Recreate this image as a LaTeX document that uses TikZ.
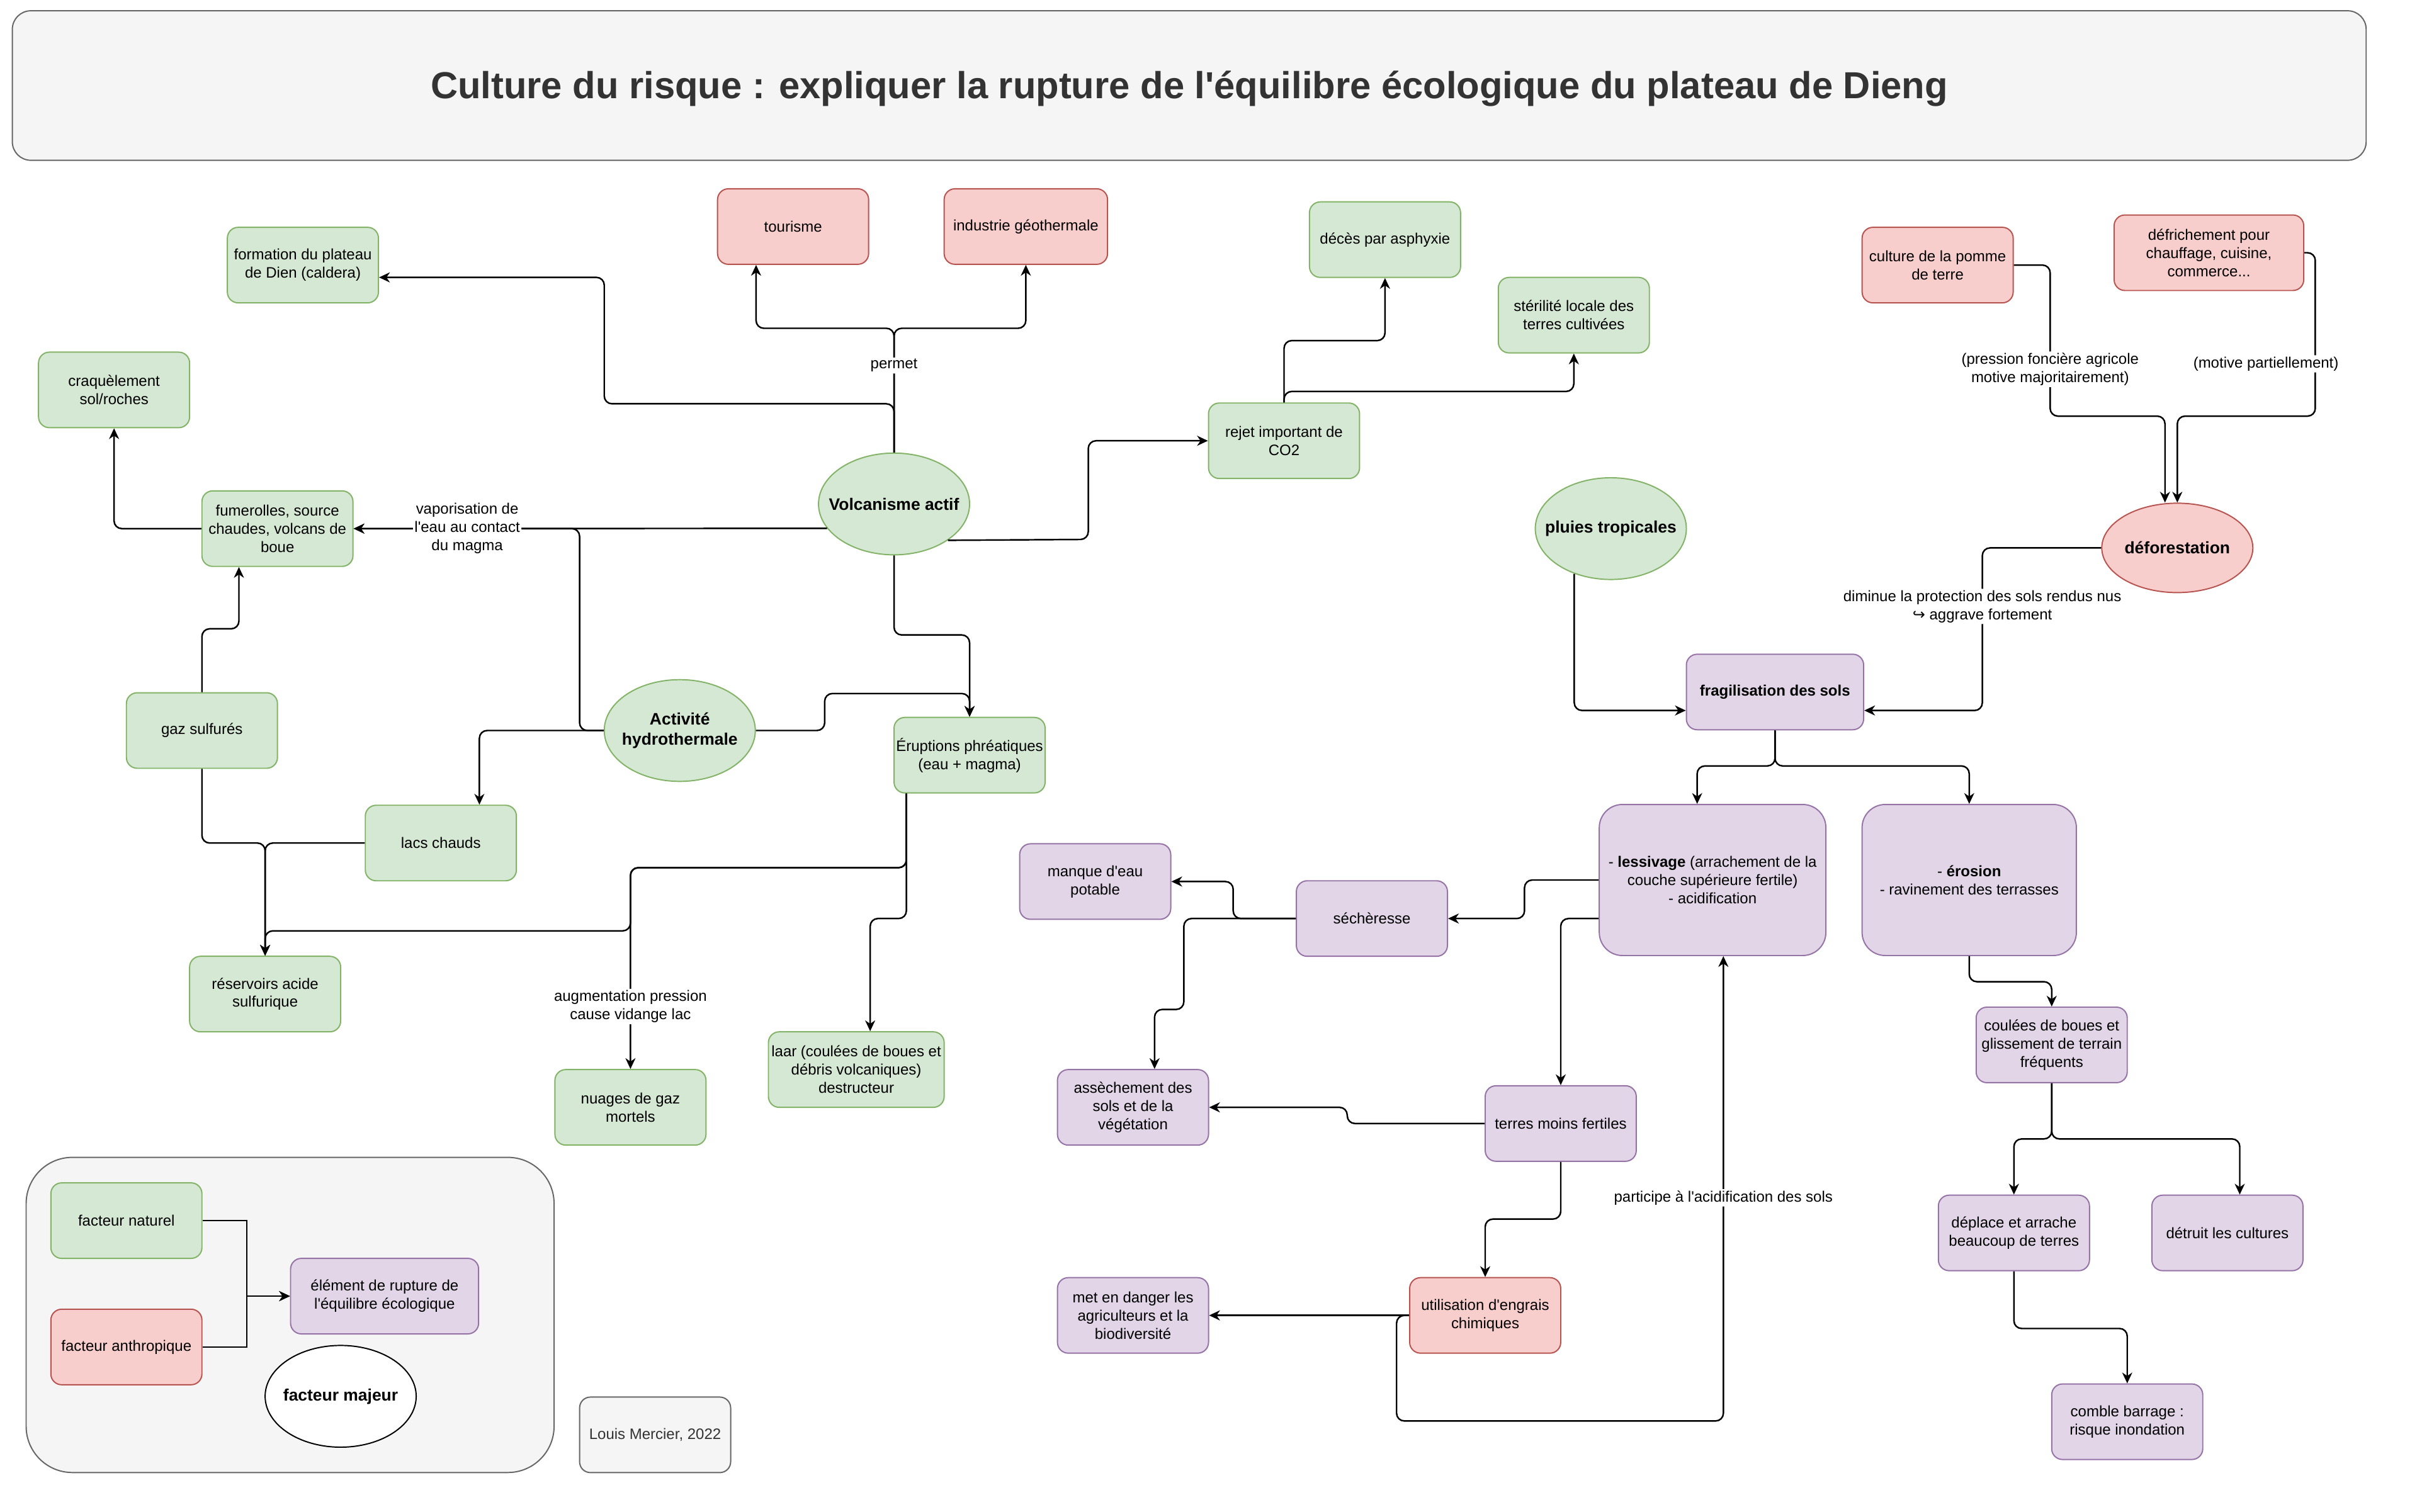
\documentclass[tikz,border=0pt]{standalone}
\usepackage{fontspec}
\setmainfont{Liberation Sans}[Ligatures=TeXOff]
\newfontfamily\arrowfont{DejaVu Sans}
\usetikzlibrary{arrows.meta, shapes.geometric}
\definecolor{natfill}{HTML}{D5E8D4}
\definecolor{natline}{HTML}{82B366}
\definecolor{humfill}{HTML}{F8CECC}
\definecolor{humline}{HTML}{B85450}
\definecolor{rupfill}{HTML}{E1D5E7}
\definecolor{rupline}{HTML}{9673A6}
\definecolor{greyfill}{HTML}{F5F5F5}
\definecolor{greyline}{HTML}{666666}
\definecolor{ctext}{HTML}{333333}
\tikzset{
  every picture/.style={font=\fontsize{9.8}{11.8}\selectfont, line width=1pt},
  box/.style={draw=#1line, fill=#1fill, rounded corners=7pt, align=center, inner sep=1pt,
              minimum width=98pt, minimum height=49pt, line width=0.8pt},
  box/.default=grey,
  ell/.style={box=#1, ellipse, sharp corners, inner sep=-20pt, minimum height=66pt,
              font=\fontsize{10.8}{13}\selectfont\bfseries},
  arrow/.style={-{Stealth[length=7pt, width=6.5pt, inset=2.2pt]}, rounded corners=5pt},
  lbl/.style={fill=white, inner sep=1pt, align=center},
}

\begin{document}
\begin{tikzpicture}[x=1pt, y=-1pt]
  \useasboundingbox (0,0) rectangle (1568,981);
  \node[box, minimum width=1527pt, minimum height=97pt, rounded corners=12pt, text=ctext,
        text height=22pt, text depth=5pt,
        font=\fontsize{24.4}{29}\selectfont\bfseries] (title) at (771.5,55.5)
        {Culture du risque : expliquer la rupture de l'équilibre écologique du plateau de Dieng};
  \node[box, minimum width=342.5pt, minimum height=204.5pt, rounded corners=30pt] (legend) at (188.2,853.2) {};
  \node[box, text=ctext] (credit) at (425,931) {Louis Mercier, 2022};
  % natural factors
  \foreach \n/\x/\y/\w/\t in {form/196.5/172/98/{formation du plateau\\de Dien (caldera)},
      craq/74/253/98/{craquèlement\\sol/roches}, fum/180/343/98/{fumerolles, source\\chaudes, volcans de\\boue},
      gaz/131/474/98/{gaz sulfurés}, lacs/286/547/98/{lacs chauds}, res/172/645/98/{réservoirs acide\\sulfurique},
      nuages/409/718.5/98/{nuages de gaz\\mortels}, laar/555.5/694/114/{laar (coulées de boues et\\débris volcaniques)\\destructeur},
      erup/629/490/98/{Éruptions phréatiques\\(eau + magma)}, co2/833/286/98/{rejet important de\\CO2},
      deces/898.5/155.5/98/{décès par asphyxie}, steril/1021/204.5/98/{stérilité locale des\\terres cultivées},
      nat/82/792/98/{facteur naturel}}
    \node[box=nat, minimum width=\w pt] (\n) at (\x,\y) {\t};
  % human factors
  \foreach \n/\x/\y/\w/\t in {tour/514.5/147/98/{tourisme}, indus/665.5/147/106/{industrie géothermale},
      pomme/1257/172/98/{culture de la pomme\\de terre}, defri/1433/164/123/{défrichement pour\\chauffage, cuisine,\\commerce...},
      engrais/963.5/853.5/98/{utilisation d'engrais\\chimiques}, anth/82/874/98/{facteur anthropique}}
    \node[box=hum, minimum width=\w pt] (\n) at (\x,\y) {\t};
  % elements of rupture
  \foreach \n/\x/\y/\w/\t in {sech/890/596/98/{séchèresse}, manque/710.5/572/98/{manque d'eau\\potable},
      assech/735/718.5/98/{assèchement des\\sols et de la\\végétation}, terres/1012.5/729/98/{terres moins fertiles},
      danger/735/853.5/98/{met en danger les\\agriculteurs et la\\biodiversité},
      coulees/1331/678/98/{coulées de boues et\\glissement de terrain\\fréquents},
      deplace/1306.5/800/98/{déplace et arrache\\beaucoup de terres}, detruit/1445/800/98/{détruit les cultures},
      comble/1380/922.5/98/{comble barrage :\\risque inondation}, elem/249.5/841/122/{élément de rupture de\\l'équilibre écologique}}
    \node[box=rup, minimum width=\w pt] (\n) at (\x,\y) {\t};
  \node[box=rup, minimum width=115pt] (fragil) at (1151.5,449) {\textbf{fragilisation des sols}};
  \node[box=rup, minimum width=147pt, minimum height=98pt, rounded corners=15pt] (less) at (1111,571)
    {- \textbf{lessivage} (arrachement de la\\couche supérieure fertile)\\- acidification};
  \node[box=rup, minimum width=139pt, minimum height=98pt, rounded corners=15pt] (eros) at (1277.5,571)
    {- \textbf{érosion}\\- ravinement des terrasses};
  % major factors
  \node[ell=nat] (volc) at (580,327) {Volcanisme actif};
  \node[ell=nat] (hydro) at (441,474) {Activité\\hydrothermale};
  \node[ell=nat] (pluie) at (1045,343) {pluies tropicales};
  \node[ell=hum, minimum height=58pt] (defor) at (1412.5,355.5) {déforestation};
  \node[ell=nat, draw=black, fill=white] (majeur) at (221,906) {facteur majeur};

  % volcanism
  \draw[arrow] (volc.north) |- (392,262) |- ([yshift=-8pt]form.east);
  \draw[arrow] (volc.north) -- (580,213) -| ([xshift=-24pt]tour.south);
  \draw[arrow] (volc.north) -- node[lbl, pos=0.7] {permet} (580,213) -| (indus.south);
  \draw[arrow] (hydro.west) -- (376,474) |- (fum.east);
  \draw[arrow] (volc.200) -- node[lbl, pos=0.76] {vaporisation de\\l'eau au contact\\du magma} (fum.east);
  \draw[arrow] (volc.-34) -- (706,350) |- (co2.west);
  \draw[arrow] (co2.north) -- (833,221) -| (deces.south);
  \draw[arrow] (co2.north) -- (833,254) -| (steril.south);
  \draw[arrow] (volc.south) -- (580,412) -| (erup.north);
  \draw[arrow] (hydro.east) -- (535,474) -- (535,450) -| (erup.north);
  \draw[arrow] (hydro.west) -| ([xshift=25pt]lacs.north);
  \draw[arrow] (fum.west) -| (craq.south);
  \draw[arrow] (gaz.north) -- (131,408) -| ([xshift=-25pt]fum.south);
  \draw[arrow] (gaz.south) -- (131,547) -| (res.north);
  \draw[arrow] (lacs.west) -| (res.north);
  \draw[arrow] ([xshift=-41pt]erup.south) -- (588,563) -| (409,604) -| (res.north);
  \draw[arrow] ([xshift=-41pt]erup.south) -- (588,563) -- (409,563)
    -- node[lbl, pos=0.69] {augmentation pression\\cause vidange lac} (nuages.north);
  \draw[arrow] ([xshift=-41pt]erup.south) -- (588,596) -| ([xshift=9pt]laar.north);
  % deforestation and soils
  \draw[arrow] (pomme.east) -- (1330,172)
    -- node[lbl, pos=0.69] {(pression foncière agricole\\motive majoritairement)} (1330,270) -| ([xshift=-8pt]defor.north);
  \draw[arrow] (defri.east) -- (1502,164)
    -- node[lbl, pos=0.68, xshift=-32pt] {(motive partiellement)} (1502,270) -| (defor.north);
  \draw[arrow] (defor.west) -- (1286,355.5)
    -- node[lbl, pos=0.36] {diminue la protection des sols rendus nus\\{\arrowfont ↪} aggrave fortement} (1286,461)
    -- ([yshift=-12pt]fragil.east);
  \draw[arrow] (pluie.-129) |- ([yshift=-12pt]fragil.west);
  \draw[arrow] (fragil.south) -- (1151.5,497) -| ([xshift=-10pt]less.north);
  \draw[arrow] (fragil.south) -- (1151.5,497) -| (eros.north);
  \draw[arrow] (less.west) -- (989,571) |- (sech.east);
  \draw[arrow] ([yshift=-25pt]less.west) -| (terres.north);
  \draw[arrow] (sech.west) -- (800,596) |- (manque.east);
  \draw[arrow] (sech.west) -- (768,596) -- (768,655) -| ([xshift=14pt]assech.north);
  \draw[arrow] (terres.west) -- (874,729) |- (assech.east);
  \draw[arrow] (terres.south) -- (1012.5,791) -| (engrais.north);
  \draw[arrow] (engrais.west) -- (danger.east);
  \draw[arrow] (engrais.west) -- (906,853.5) |- (1118,922)
    -- node[lbl, pos=0.48] {participe à l'acidification des sols} ([xshift=7pt]less.south);
  \draw[arrow] (eros.south) -- (1277.5,637) -| (coulees.north);
  \draw[arrow] (coulees.south) -- (1331,739) -| (deplace.north);
  \draw[arrow] (coulees.south) -- (1331,739) -| ([xshift=8pt]detruit.north);
  \draw[arrow] (deplace.south) -- (1306.5,862) -| (comble.north);
  % legend
  \draw[arrow, sharp corners] (nat.east) -- (160,792) |- (elem.west);
  \draw[arrow, sharp corners] (anth.east) -- (160,874) |- (elem.west);
\end{tikzpicture}
\end{document}
